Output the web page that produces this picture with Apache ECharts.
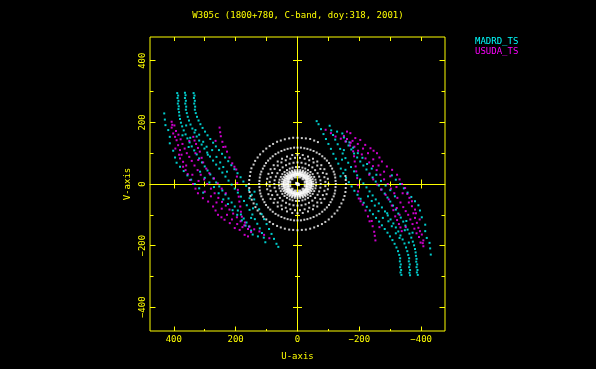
<!DOCTYPE html>
<html><head><meta charset="utf-8">
<script src="https://cdn.jsdelivr.net/npm/echarts@6/dist/echarts.min.js"></script>
<style>html,body{margin:0;padding:0;background:#000;}#c{width:596px;height:369px;}</style>
</head><body><div id="c"></div>
<script>
const titleText = 'W305c (1800+780, C-band, doy:318, 2001)';
const stationNames = ['MADRD_TS', 'USUDA_TS'];
const axisNames = ['U-axis', 'V-axis'];
const axisRange = [-477, 477];
const majorTicks = [-400, -200, 0, 200, 400];
const minorTicks = [-300, -100, 100, 300];
const zeroMajorTicks = [-400, -200, 200, 400];

// white (ground baselines) rings
const ring1 = [[157,0],[156,13],[154,26],[152,39],[149,51],[142,63],[137,75],[129,86],[121,96],[111,106],[101,115],[90,123],[79,130],[66,137],[54,141],[41,145],[27,148],[14,150],[0,150],[-14,149],[-27,148],[-41,146],[-54,141],[-66,136],
[-155,26],[-156,13],[-157,0],[-156,-13],[-155,-26],[-152,-39],[-148,-51],[-142,-63],[-136,-75],[-129,-86],[-120,-96],[-111,-106],[-101,-115],[-90,-123],[-79,-130],[-66,-136],[-54,-141],[-41,-145],[-27,-148],[-14,-149],[0,-150],[14,-149],[27,-148],[41,-145],[54,-141],[66,-136],[79,-130],[90,-123],[101,-115],[111,-106],[120,-96],[129,-86],[136,-75],[142,-63],[148,-51],[152,-39],[155,-26],[156,-13]];
const ring2 = [[124,0],[123,10],[122,21],[120,31],[117,40],[112,50],[107,59],[102,68],[95,76],[88,83],[80,90],[71,97],[62,102],[52,107],[42,111],[32,114],[22,116],[11,118],[0,118],
[-11,118],[-22,116],[-32,114],[-42,111],[-52,107],[-62,102],[-71,97],[-80,90],[-88,83],[-95,76],[-102,68],[-107,59],[-112,50],[-117,40],[-120,31],[-122,21],[-123,10],[-124,0],
[-123,-10],[-122,-21],[-120,-31],[-117,-40],[-112,-50],[-107,-59],[-102,-68],[-95,-76],[-88,-83],[-80,-90],[-71,-97],[-62,-102],[-52,-107],[-42,-111],[-32,-114],[-22,-116],[-11,-118],[0,-118],
[11,-118],[22,-116],[32,-114],[42,-111],[52,-107],[62,-102],[71,-97],[80,-90],[88,-83],[95,-76],[102,-68],[107,-59],[112,-50],[117,-40],[120,-31],[122,-21],[123,-10]];
const ring3 = [[100,0],[98,17],[94,33],[87,48],[77,61],[64,73],[50,82],[34,89],[17,94],[0,95],[-17,94],[-34,89],[-50,82],[-64,73],[-77,61],[-87,48],[-94,33],[-98,17],[-100,0],
[-98,-17],[-94,-33],[-87,-48],[-77,-61],[-64,-73],[-50,-82],[-34,-89],[-17,-94],[0,-95],[17,-94],[34,-89],[50,-82],[64,-73],[77,-61],[87,-48],[94,-33],[98,-17]];
const ring3b = [[90,7],[87,22],[82,36],[74,49],[64,60],[52,70],[38,77],[23,82],[8,85],[-8,85],[-23,82],[-38,77],[-52,70],[-64,60],[-74,49],[-82,36],[-87,22],[-90,7],
[-90,-7],[-87,-22],[-82,-36],[-74,-49],[-64,-60],[-52,-70],[-38,-77],[-23,-82],[-8,-85],[8,-85],[23,-82],[38,-77],[52,-70],[64,-60],[74,-49],[82,-36],[87,-22],[90,-7]];
const ring4 = [[75,0],[74,12],[70,24],[65,35],[57,45],[48,54],[37,61],[26,66],[13,69],[0,70],[-13,69],[-26,66],[-37,61],[-48,54],[-57,45],[-65,35],[-70,24],[-74,12],[-75,0],
[-74,-12],[-70,-24],[-65,-35],[-57,-45],[-48,-54],[-37,-61],[-26,-66],[-13,-69],[0,-70],[13,-69],[26,-66],[37,-61],[48,-54],[57,-45],[65,-35],[70,-24],[74,-12]];
const ring5 = [[60,5],[58,14],[54,23],[49,32],[42,39],[34,45],[25,50],[16,53],[5,55],[-5,55],[-16,53],[-25,50],[-34,45],[-42,39],[-49,32],[-54,23],[-58,14],[-60,5],
[-60,-5],[-58,-14],[-54,-23],[-49,-32],[-42,-39],[-34,-45],[-25,-50],[-16,-53],[-5,-55],[5,-55],[16,-53],[25,-50],[34,-45],[42,-39],[49,-32],[54,-23],[58,-14],[60,-5]];
const ring6 = [[52,0],[51,8],[49,16],[45,23],[40,30],[33,35],[26,40],[18,43],[9,45],[0,46],[-9,45],[-18,43],[-26,40],[-33,35],[-40,30],[-45,23],[-49,16],[-51,8],[-52,0],
[-51,-8],[-49,-16],[-45,-23],[-40,-30],[-33,-35],[-26,-40],[-18,-43],[-9,-45],[0,-46],[9,-45],[18,-43],[26,-40],[33,-35],[40,-30],[45,-23],[49,-16],[51,-8]];
const ring7 = [[47,0],[46,7],[44,14],[41,21],[36,26],[30,31],[24,36],[16,39],[8,40],[0,41],[-8,40],[-16,39],[-24,36],[-30,31],[-36,26],[-41,21],[-44,14],[-46,7],[-47,0],
[-46,-7],[-44,-14],[-41,-21],[-36,-26],[-30,-31],[-24,-36],[-16,-39],[-8,-40],[0,-41],[8,-40],[16,-39],[24,-36],[30,-31],[36,-26],[41,-21],[44,-14],[46,-7]];
const core1 = [[42,3],[41,9],[38,15],[34,21],[30,25],[24,29],[18,33],[11,35],[4,36],[-4,36],[-11,35],[-18,33],[-24,29],[-30,25],[-34,21],[-38,15],[-41,9],[-42,3],
[-42,-3],[-41,-9],[-38,-15],[-34,-21],[-30,-25],[-24,-29],[-18,-33],[-11,-35],[-4,-36],[4,-36],[11,-35],[18,-33],[24,-29],[30,-25],[34,-21],[38,-15],[41,-9],[42,-3]];
const core2 = [[33,0],[32,5],[31,11],[29,16],[25,20],[21,24],[16,27],[11,29],[6,31],[0,31],[-6,31],[-11,29],[-16,27],[-21,24],[-25,20],[-29,16],[-31,11],[-32,5],[-33,0],
[-32,-5],[-31,-11],[-29,-16],[-25,-20],[-21,-24],[-16,-27],[-11,-29],[-6,-31],[0,-31],[6,-31],[11,-29],[16,-27],[21,-24],[25,-20],[29,-16],[31,-11],[32,-5]];
const core3 = [[25,6],[18,17],[7,23],[-7,23],[-18,17],[-25,6],[-25,-6],[-18,-17],[-7,-23],[7,-23],[18,-17],[25,-6]];
const centre = [[0,0],[3,2],[-3,-2]];

// MADRD_TS (cyan) tracks and their conjugates
const cyanA = [[389,295],[386,287],[388,279],[385,270],[387,261],[384,252],[385,243],[383,233],[382,222],[380,211],[377,199],[373,187],[368,174],[362,161],[356,148],[349,135],[342,122],[334,109],[326,96],[318,83],[309,70],[300,57],[291,44],[282,31],[272,18],[263,5],[253,-8],[243,-21],[233,-34],[223,-47],[213,-60],[203,-73],[193,-86],[183,-99],[174,-112],[165,-125],[157,-138],[150,-151],[145,-164]];
const cyanB = [[364,296],[362,288],[364,279],[361,270],[363,261],[360,251],[361,241],[358,230],[355,218],[351,206],[346,193],[340,180],[333,167],[326,154],[318,141],[310,128],[301,115],[292,102],[283,89],[273,76],[263,63],[253,50],[243,37],[233,24],[223,11],[213,-2],[203,-15],[193,-28],[183,-41],[173,-55],[164,-69],[155,-84],[146,-99],[138,-114],[130,-129],[122,-144],[115,-159],[109,-174],[104,-189]];
const cyanC = [[336,295],[333,287],[335,279],[332,270],[334,261],[331,251],[332,241],[329,230],[325,218],[320,206],[314,194],[307,182],[299,170],[291,158],[282,146],[273,134],[264,122],[254,110],[244,98],[234,86],[224,74],[214,61],[204,48],[194,35],[184,22],[175,8],[166,-6],[157,-20],[148,-35],[140,-50],[132,-66],[124,-82],[116,-98],[108,-114],[100,-130],[92,-146],[84,-162],[76,-178],[68,-194],[62,-204]];
const cyanD = [[431,229],[429,209],[427,191],[418,175],[413,153],[413,132],[402,108],[396,86],[391,69],[380,56],[368,42],[356,28],[344,14],[332,0],[318,-14],[305,-28]];
const cyanExtra = [[372,158],[360,190],[347,150],[352,120],[330,175],[318,160],[305,137],[294,121],[290,95],[276,110],[262,88],[250,70],[240,55],[228,40],[315,40],[300,20],[285,5],[270,-10],[255,-30],[240,-50],[225,-65],[210,-85],[195,-100],[180,-118],[168,-135],[150,-110],[139,-25],[144,-79],[155,-46],[128,-170]];
const cyanAc = [[-389,-295],[-386,-287],[-388,-279],[-385,-270],[-387,-261],[-384,-252],[-385,-243],[-383,-233],[-382,-222],[-380,-211],[-377,-199],[-373,-187],[-368,-174],[-362,-161],[-356,-148],[-349,-135],[-342,-122],[-334,-109],[-326,-96],[-318,-83],[-309,-70],[-300,-57],[-291,-44],[-282,-31],[-272,-18],[-263,-5],[-253,8],[-243,21],[-233,34],[-223,47],[-213,60],[-203,73],[-193,86],[-183,99],[-174,112],[-165,125],[-157,138],[-150,151],[-145,164]];
const cyanBc = [[-364,-296],[-362,-288],[-364,-279],[-361,-270],[-363,-261],[-360,-251],[-361,-241],[-358,-230],[-355,-218],[-351,-206],[-346,-193],[-340,-180],[-333,-167],[-326,-154],[-318,-141],[-310,-128],[-301,-115],[-292,-102],[-283,-89],[-273,-76],[-263,-63],[-253,-50],[-243,-37],[-233,-24],[-223,-11],[-213,2],[-203,15],[-193,28],[-183,41],[-173,55],[-164,69],[-155,84],[-146,99],[-138,114],[-130,129],[-122,144],[-115,159],[-109,174],[-104,189]];
const cyanCc = [[-336,-295],[-333,-287],[-335,-279],[-332,-270],[-334,-261],[-331,-251],[-332,-241],[-329,-230],[-325,-218],[-320,-206],[-314,-194],[-307,-182],[-299,-170],[-291,-158],[-282,-146],[-273,-134],[-264,-122],[-254,-110],[-244,-98],[-234,-86],[-224,-74],[-214,-61],[-204,-48],[-194,-35],[-184,-22],[-175,-8],[-166,6],[-157,20],[-148,35],[-140,50],[-132,66],[-124,82],[-116,98],[-108,114],[-100,130],[-92,146],[-84,162],[-76,178],[-68,194],[-62,204]];
const cyanDc = [[-431,-229],[-429,-209],[-427,-191],[-418,-175],[-413,-153],[-413,-132],[-402,-108],[-396,-86],[-391,-69],[-380,-56],[-368,-42],[-356,-28],[-344,-14],[-332,0],[-318,14],[-305,28]];
const cyanExtraC = [[-372,-158],[-360,-190],[-347,-150],[-352,-120],[-330,-175],[-318,-160],[-305,-137],[-294,-121],[-290,-95],[-276,-110],[-262,-88],[-250,-70],[-240,-55],[-228,-40],[-315,-40],[-300,-20],[-285,-5],[-270,10],[-255,30],[-240,50],[-225,65],[-210,85],[-195,100],[-180,118],[-168,135],[-150,110],[-139,25],[-144,79],[-155,46],[-128,170]];

// USUDA_TS (magenta) tracks and their conjugates
const magOuter = [[407,202],[405,192],[407,183],[402,164],[396,153],[391,142],[386,126],[380,110],[383,95],[380,83],[370,72],[370,56],[362,45],[355,32],[348,13],[338,0],[330,-15],[322,-30],[306,-46],[289,-57],[273,-73],[265,-86],[257,-100],[246,-108],[236,-116],[219,-127],[203,-143],[187,-149],[171,-165],[160,-170]];
const magOuter2 = [[398,190],[393,172],[385,160],[378,145],[372,130],[365,115],[358,100],[350,88],[342,75],[333,60],[323,45],[313,30],[302,15],[292,0],[280,-15],[268,-30],[256,-45],[244,-58],[232,-70],[220,-83],[208,-96],[196,-108],[184,-121],[172,-134],[160,-146],[150,-156]];
const magInner = [[337,153],[333,141],[328,130],[322,117],[316,105],[321,78],[305,70],[295,50],[285,35],[270,18],[258,2],[245,-15],[232,-30]];
const magRight = [[252,183],[250,168],[248,155],[243,137],[233,121],[228,105],[220,86],[211,67],[204,56],[198,47],[196,24],[195,3],[193,-19],[190,-41],[188,-57],[185,-73],[183,-90],[180,-106],[170,-125],[155,-138],[140,-147],[123,-154],[108,-165],[91,-176]];
const magExtra = [[395,115],[375,95],[360,60],[340,30],[320,10],[300,-25],[280,-40],[262,-60],[245,-80],[228,-100],[212,-115],[195,-130],[178,-140],[350,140],[330,100],[310,85],[265,140],[240,120]];
const magOuterC = [[-407,-202],[-405,-192],[-407,-183],[-402,-164],[-396,-153],[-391,-142],[-386,-126],[-380,-110],[-383,-95],[-380,-83],[-370,-72],[-370,-56],[-362,-45],[-355,-32],[-348,-13],[-338,0],[-330,15],[-322,30],[-306,46],[-289,57],[-273,73],[-265,86],[-257,100],[-246,108],[-236,116],[-219,127],[-203,143],[-187,149],[-171,165],[-160,170]];
const magOuter2C = [[-398,-190],[-393,-172],[-385,-160],[-378,-145],[-372,-130],[-365,-115],[-358,-100],[-350,-88],[-342,-75],[-333,-60],[-323,-45],[-313,-30],[-302,-15],[-292,0],[-280,15],[-268,30],[-256,45],[-244,58],[-232,70],[-220,83],[-208,96],[-196,108],[-184,121],[-172,134],[-160,146],[-150,156]];
const magInnerC = [[-337,-153],[-333,-141],[-328,-130],[-322,-117],[-316,-105],[-321,-78],[-305,-70],[-295,-50],[-285,-35],[-270,-18],[-258,-2],[-245,15],[-232,30]];
const magRightC = [[-252,-183],[-250,-168],[-248,-155],[-243,-137],[-233,-121],[-228,-105],[-220,-86],[-211,-67],[-204,-56],[-198,-47],[-196,-24],[-195,-3],[-193,19],[-190,41],[-188,57],[-185,73],[-183,90],[-180,106],[-170,125],[-155,138],[-140,147],[-123,154],[-108,165],[-91,176]];
const magExtraC = [[-395,-115],[-375,-95],[-360,-60],[-340,-30],[-320,-10],[-300,25],[-280,40],[-262,60],[-245,80],[-228,100],[-212,115],[-195,130],[-178,140],[-350,-140],[-330,-100],[-310,-85],[-265,-140],[-240,-120]];

const Y = '#ffff00', CYAN = '#00ffff', MAG = '#ff00ff', F = 'DejaVu Sans Mono';
const txt = {color: Y, fontSize: 9, fontFamily: F, fontWeight: 'normal'};
const fmt = v => String(v).replace('-', '\u2212');

function ax(dim, o) {
  const a = {
    type: 'value', min: axisRange[0], max: axisRange[1], inverse: dim === 'x',
    position: o.position, splitLine: {show: false},
    axisLine: {show: !!o.line, onZero: !!o.zero, onZeroAxisIndex: o.zero ? 0 : undefined, lineStyle: {color: Y, width: 1}},
    axisTick: {show: true, inside: !!o.inside, length: o.len, customValues: o.ticks, lineStyle: {color: Y, width: 1}},
    axisLabel: {show: false}
  };
  if (o.labels) {
    a.axisLabel = Object.assign({show: true, customValues: o.ticks, margin: o.margin, rotate: o.rotate || 0, formatter: fmt}, txt);
    a.name = o.name; a.nameLocation = 'middle'; a.nameGap = o.nameGap;
    a.nameTextStyle = Object.assign({}, txt);
  }
  return a;
}

const xAxes = [
  ax('x', {position: 'bottom', ticks: majorTicks, len: 4.5, inside: true, labels: true, margin: 4, name: axisNames[0], nameGap: 21}),
  ax('x', {position: 'bottom', ticks: minorTicks, len: 2, inside: true}),
  ax('x', {position: 'top', ticks: majorTicks, len: 4, inside: true}),
  ax('x', {position: 'top', ticks: minorTicks, len: 4, inside: true}),
  ax('x', {position: 'bottom', ticks: zeroMajorTicks, len: 4.5, inside: true, zero: true, line: true}),
  ax('x', {position: 'bottom', ticks: zeroMajorTicks, len: 4.5, inside: false, zero: true}),
  ax('x', {position: 'bottom', ticks: minorTicks, len: 2.5, inside: true, zero: true}),
  ax('x', {position: 'bottom', ticks: minorTicks, len: 2.5, inside: false, zero: true})
];
const yAxes = [
  ax('y', {position: 'left', ticks: majorTicks, len: 5.5, inside: true, labels: true, margin: 3, rotate: 90, name: axisNames[1], nameGap: 18}),
  ax('y', {position: 'left', ticks: minorTicks, len: 3.5, inside: true}),
  ax('y', {position: 'right', ticks: majorTicks, len: 5.5, inside: true}),
  ax('y', {position: 'right', ticks: minorTicks, len: 3.5, inside: true}),
  ax('y', {position: 'left', ticks: zeroMajorTicks, len: 4.5, inside: true, zero: true, line: true}),
  ax('y', {position: 'left', ticks: zeroMajorTicks, len: 4.5, inside: false, zero: true}),
  ax('y', {position: 'left', ticks: minorTicks, len: 2.5, inside: true, zero: true}),
  ax('y', {position: 'left', ticks: minorTicks, len: 2.5, inside: false, zero: true})
];

const dot = {type: 'scatter', symbol: 'rect', xAxisIndex: 0, yAxisIndex: 0, silent: true, large: false};
const chart = echarts.init(document.getElementById('c'), null, {renderer: 'canvas'});
chart.setOption({
  backgroundColor: '#000',
  animation: false,
  title: {text: titleText, left: 'center', top: 11, padding: 0, textStyle: txt},
  legend: {
    orient: 'vertical', left: 470, top: 37, padding: 0, itemGap: 1, itemWidth: 0, itemHeight: 0,
    selectedMode: false, textStyle: {fontSize: 9, fontFamily: F},
    data: [
      {name: stationNames[0], textStyle: {color: CYAN}},
      {name: stationNames[1], textStyle: {color: MAG}}
    ]
  },
  grid: {left: 150, right: 151, top: 37, bottom: 38, show: true, borderColor: Y, borderWidth: 1, backgroundColor: 'transparent', containLabel: false},
  xAxis: xAxes,
  yAxis: yAxes,
  series: [
    Object.assign({}, dot, {data: [].concat(ring1, ring2, ring3, ring3b, ring4, ring5, ring6, ring7), symbolSize: [2, 2], itemStyle: {color: '#fff'}}),
    Object.assign({}, dot, {data: [].concat(core1, core2, core3, centre), symbolSize: [3, 3], itemStyle: {color: '#fff'}}),
    Object.assign({}, dot, {name: stationNames[0], data: [].concat(cyanA, cyanB, cyanC, cyanD, cyanExtra, cyanAc, cyanBc, cyanCc, cyanDc, cyanExtraC), symbolSize: [2, 2], itemStyle: {color: CYAN}}),
    Object.assign({}, dot, {name: stationNames[1], data: [].concat(magOuter, magOuter2, magInner, magRight, magExtra, magOuterC, magOuter2C, magInnerC, magRightC, magExtraC), symbolSize: [2, 2], itemStyle: {color: MAG}})
  ]
});
</script>
</body></html>
